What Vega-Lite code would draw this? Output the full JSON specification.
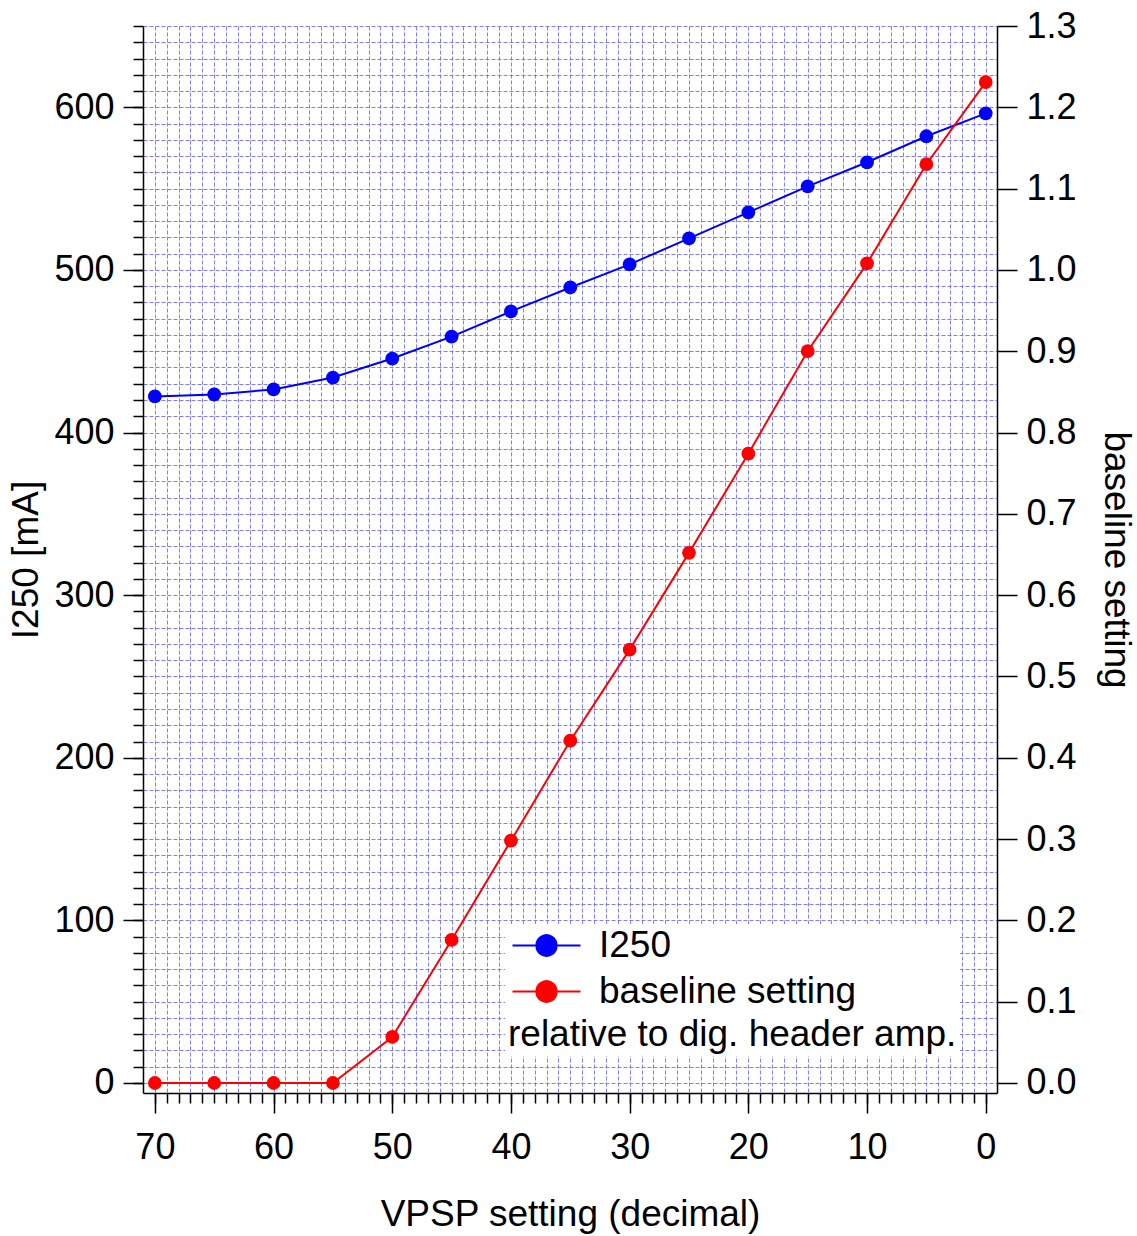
{
  "$schema": "https://vega.github.io/schema/vega-lite/v6.json",
  "width": 854,
  "height": 1067,
  "autosize": {"type": "none"},
  "padding": {"left": 143, "top": 26, "right": 140, "bottom": 143},
  "config": {
    "font": "Liberation Sans",
    "view": {"stroke": null},
    "axis": {
      "labelFont": "Liberation Sans",
      "titleFont": "Liberation Sans",
      "labelColor": "black",
      "titleColor": "black",
      "domainColor": "black",
      "tickColor": "black",
      "titleFontWeight": "normal",
      "labelFontSize": 36,
      "titleFontSize": 37,
      "domainWidth": 1.5,
      "tickWidth": 1.5
    }
  },
  "data": {
    "values": [
      {"vpsp": 70, "I250": 422.2, "baseline": 0},
      {"vpsp": 65, "I250": 423.4, "baseline": 0},
      {"vpsp": 60, "I250": 426.5, "baseline": 0},
      {"vpsp": 55, "I250": 433.8, "baseline": 0},
      {"vpsp": 50, "I250": 445.5, "baseline": 0.0566},
      {"vpsp": 45, "I250": 459.0, "baseline": 0.176},
      {"vpsp": 40, "I250": 474.5, "baseline": 0.298},
      {"vpsp": 35, "I250": 489.2, "baseline": 0.421},
      {"vpsp": 30, "I250": 503.4, "baseline": 0.533},
      {"vpsp": 25, "I250": 519.4, "baseline": 0.652},
      {"vpsp": 20, "I250": 535.4, "baseline": 0.774},
      {"vpsp": 15, "I250": 551.4, "baseline": 0.900},
      {"vpsp": 10, "I250": 566.2, "baseline": 1.008},
      {"vpsp": 5, "I250": 582.2, "baseline": 1.130},
      {"vpsp": 0, "I250": 596.3, "baseline": 1.231}
    ]
  },
  "layer": [
    {
      "mark": {"type": "point", "opacity": 0},
      "encoding": {
        "x": {
          "field": "vpsp", "type": "quantitative",
          "scale": {"domain": [71, -0.95], "nice": false, "zero": false},
          "axis": {
            "orient": "bottom",
            "values": [0,1,2,3,4,5,6,7,8,9,10,11,12,13,14,15,16,17,18,19,20,21,22,23,24,25,26,27,28,29,30,31,32,33,34,35,36,37,38,39,40,41,42,43,44,45,46,47,48,49,50,51,52,53,54,55,56,57,58,59,60,61,62,63,64,65,66,67,68,69,70],
            "grid": true, "gridColor": "#7070ff", "gridDash": [4, 2], "gridOpacity": 0.9, "gridWidth": 1,
            "tickSize": 10, "labels": false, "title": null, "domain": true
          }
        },
        "y": {
          "field": "I250", "type": "quantitative",
          "scale": {"domain": [-6.15, 650], "nice": false, "zero": false},
          "axis": {
            "orient": "left",
            "values": [0,10,20,30,40,50,60,70,80,90,100,110,120,130,140,150,160,170,180,190,200,210,220,230,240,250,260,270,280,290,300,310,320,330,340,350,360,370,380,390,400,410,420,430,440,450,460,470,480,490,500,510,520,530,540,550,560,570,580,590,600,610,620,630,640,650],
            "grid": true, "gridColor": "#7070ff", "gridDash": [4, 2], "gridOpacity": 0.9, "gridWidth": 1,
            "tickSize": 10, "labels": false, "title": null, "domain": true
          }
        }
      }
    },
    {
      "mark": {"type": "point", "opacity": 0},
      "encoding": {
        "x": {
          "field": "vpsp", "type": "quantitative",
          "scale": {"domain": [71, -0.95], "nice": false, "zero": false},
          "axis": {
            "orient": "bottom",
            "values": [0, 10, 20, 30, 40, 50, 60, 70],
            "grid": false, "tickSize": 20, "domain": false,
            "labelPadding": 17, "title": "VPSP setting (decimal)", "titlePadding": 31
          }
        },
        "y": {
          "field": "I250", "type": "quantitative",
          "scale": {"domain": [-6.15, 650], "nice": false, "zero": false},
          "axis": {
            "orient": "left",
            "values": [0, 100, 200, 300, 400, 500, 600],
            "grid": false, "tickSize": 20, "domain": false,
            "labelPadding": 9, "title": "I250 [mA]", "titlePadding": 8
          }
        }
      }
    },
    {
      "mark": {"type": "line", "strokeWidth": 2, "point": {"filled": true, "size": 190}},
      "encoding": {
        "x": {
          "field": "vpsp", "type": "quantitative",
          "scale": {"domain": [71, -0.95], "nice": false, "zero": false},
          "axis": null
        },
        "y": {
          "field": "I250", "type": "quantitative",
          "scale": {"domain": [-6.15, 650], "nice": false, "zero": false},
          "axis": null
        },
        "color": {
          "datum": "I250",
          "scale": {"domain": ["I250", "baseline setting"], "range": ["#0000ff", "#ff0000"]},
          "legend": {
            "orient": "none",
            "legendX": 362,
            "legendY": 898,
            "title": "relative to dig. header amp.",
            "titleOrient": "bottom",
            "titleAnchor": "start",
            "titleFont": "Liberation Sans",
            "titleFontSize": 37,
            "titleFontWeight": "normal",
            "titleColor": "black",
            "titleLimit": 1000,
            "titlePadding": 7,
            "labelFont": "Liberation Sans",
            "labelFontSize": 37,
            "labelColor": "black",
            "labelLimit": 1000,
            "labelOffset": 54,
            "fillColor": "white",
            "padding": 3,
            "rowPadding": 8,
            "symbolType": "M -0.933 0 L 3.6 0 M 2.0 0 A 0.667 0.667 0 1 1 0.667 0 A 0.667 0.667 0 1 1 2.0 0 Z",
            "symbolSize": 900,
            "symbolStrokeWidth": 2,
            "encode": {
              "symbols": {
                "update": {
                  "fill": {"scale": "color", "field": "value"},
                  "stroke": {"scale": "color", "field": "value"},
                  "opacity": {"value": 1}
                }
              }
            }
          }
        }
      }
    },
    {
      "mark": {"type": "line", "strokeWidth": 2, "point": {"filled": true, "size": 190}},
      "encoding": {
        "x": {
          "field": "vpsp", "type": "quantitative",
          "scale": {"domain": [71, -0.95], "nice": false, "zero": false},
          "axis": null
        },
        "y": {
          "field": "baseline", "type": "quantitative",
          "scale": {"domain": [-0.0123, 1.3], "nice": false, "zero": false},
          "axis": {
            "orient": "right",
            "values": [0, 0.1, 0.2, 0.3, 0.4, 0.5, 0.6, 0.7, 0.8, 0.9, 1.0, 1.1, 1.2, 1.3],
            "format": ".1f",
            "grid": false, "tickSize": 20, "domain": true,
            "labelPadding": 9, "title": "baseline setting", "titlePadding": 20
          }
        },
        "color": {"datum": "baseline setting"}
      }
    }
  ],
  "resolve": {
    "scale": {"y": "independent"},
    "axis": {"x": "independent", "y": "independent"}
  }
}
